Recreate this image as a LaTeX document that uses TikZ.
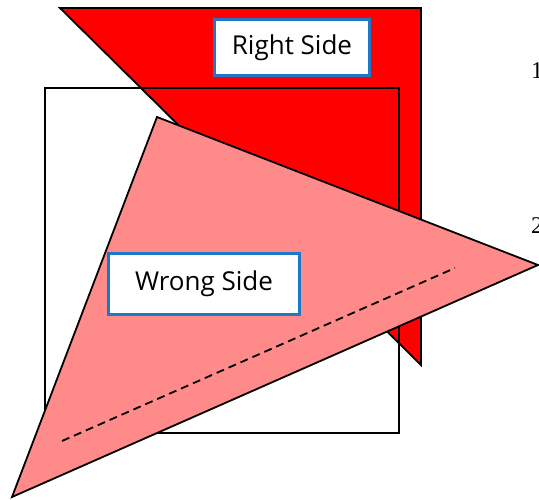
\documentclass[tikz,border=0pt]{standalone}
\usepackage{fontspec}
\newfontfamily\handfont{Open Sans}
\newfontfamily\numfont{Liberation Serif}
\usetikzlibrary{positioning}

\definecolor{foldred}{HTML}{FF0000}
\definecolor{foldpink}{HTML}{FF8A8A}
\definecolor{tagblue}{HTML}{1E78C8}

\begin{document}
\begin{tikzpicture}[
  x=1pt, y=-1pt,
  edge/.style={draw=black, line width=1.8pt, line join=miter},
  fold/.style={dash pattern=on 8pt off 5pt, line width=1.8pt},
  tag/.style={draw=tagblue, fill=white, line width=2.6pt, inner sep=0pt,
              font=\handfont\fontsize{26}{30}\selectfont},
  num/.style={anchor=base west, inner sep=0pt, font=\numfont\fontsize{24}{28}\selectfont}
]
\useasboundingbox (0,0) rectangle (539,500);
\clip (0,0) rectangle (539,500);

%% ---------- right side (back) ----------
\draw[edge, fill=foldred] (60,8) -- (421,8) -- (421,365) -- cycle;

%% ---------- square ----------
\draw[edge] (45,88) rectangle (399,433);

%% ---------- wrong side (folded flap) ----------
\draw[edge, fill=foldpink] (157,117) -- (538,265) -- (12,497) -- cycle;
\coordinate (foldA) at (62,441);
\coordinate (foldB) at (455,268);
\draw[fold] (foldA) -- (foldB);

%% ---------- labels ----------
\node[tag, minimum width=155pt, minimum height=56pt] (right) at (292,47.5) {Right Side};
\node[tag, minimum width=191pt, minimum height=61pt] (wrong) at (204,284) {Wrong Side};

%% ---------- step numbers ----------
\node[num] (one) at (531,79) {1};
\node[num] (two) at (531,234) {2};
\end{tikzpicture}
\end{document}
